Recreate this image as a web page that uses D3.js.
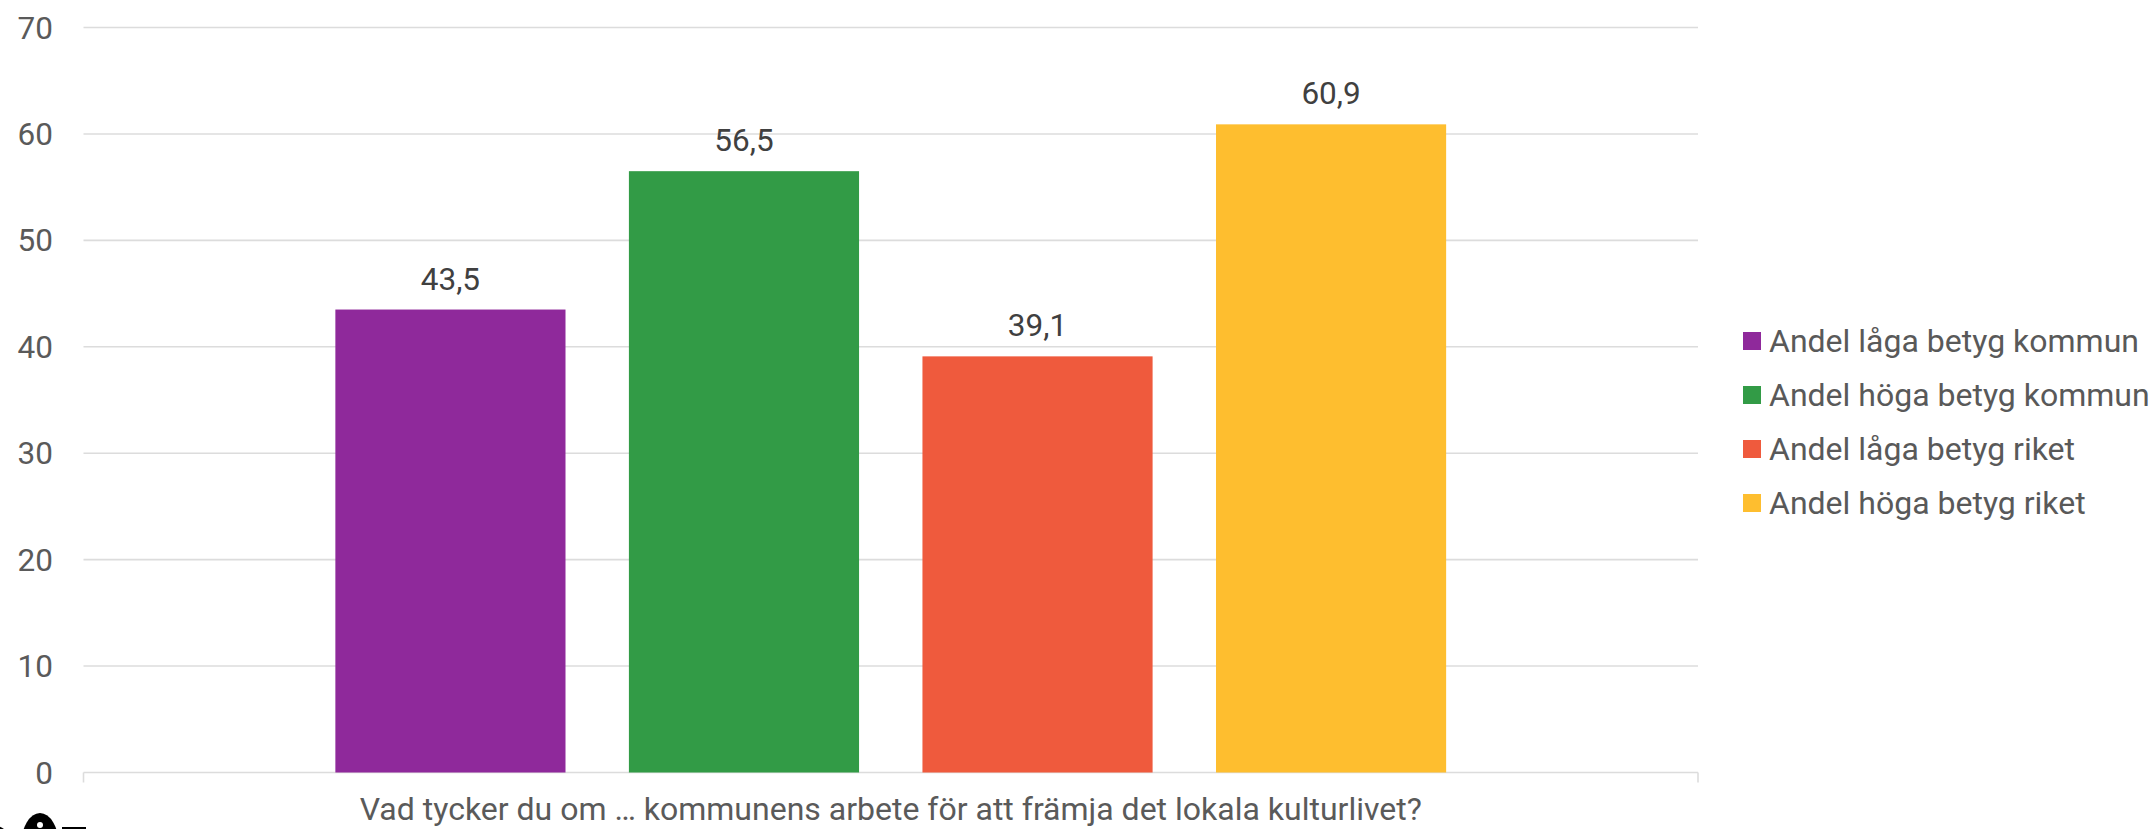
<!DOCTYPE html>
<html>
<head>
<meta charset="utf-8">
<script src="https://cdn.jsdelivr.net/npm/d3@7"></script>
<style>
  html, body { margin: 0; padding: 0; background: #fff; }
  svg { display: block; font-family: Roboto, "Noto Sans", sans-serif; }
</style>
</head>
<body>
<svg id="chart" width="2151" height="829"></svg>
<script>
const categories = ["Vad tycker du om … kommunens arbete för att främja det lokala kulturlivet?"];
const seriesNames = ["Andel låga betyg kommun", "Andel höga betyg kommun", "Andel låga betyg riket", "Andel höga betyg riket"];
const seriesValues = [43.5, 56.5, 39.1, 60.9];
const seriesColors = ["#8f299b", "#329b46", "#ef5a3d", "#febe2f"];
const yTicks = [0, 10, 20, 30, 40, 50, 60, 70];

const svg = d3.select("#chart");
const plot = { left: 83.5, right: 1698, top: 27.5, bottom: 772.5 };

const y = d3.scaleLinear().domain([0, 70]).range([plot.bottom, plot.top]);
const x0 = d3.scaleBand().domain(categories).range([plot.left, plot.right]).padding(0);
const x1 = d3.scaleBand().domain(seriesNames).range([0, x0.bandwidth()])
  .paddingInner(0.216).paddingOuter(0.858);

// gridlines
svg.append("g")
  .selectAll("line")
  .data(yTicks)
  .join("line")
  .attr("x1", plot.left).attr("x2", plot.right)
  .attr("y1", d => y(d)).attr("y2", d => y(d))
  .attr("stroke", "#dcdcdc").attr("stroke-width", 1.6);

// y tick labels
svg.append("g")
  .selectAll("text")
  .data(yTicks)
  .join("text")
  .attr("x", 53).attr("y", d => y(d))
  .attr("dy", "0.35em")
  .attr("text-anchor", "end")
  .attr("font-size", 31.5)
  .attr("fill", "#5a5a5a")
  .text(d => d);

// category axis edge ticks
svg.append("g")
  .selectAll("line")
  .data([plot.left, plot.right])
  .join("line")
  .attr("x1", d => d).attr("x2", d => d)
  .attr("y1", plot.bottom).attr("y2", plot.bottom + 10)
  .attr("stroke", "#dcdcdc").attr("stroke-width", 1.6);

// bars
const gCat = svg.append("g").attr("transform", `translate(${x0(categories[0])},0)`);
gCat.selectAll("rect")
  .data(seriesNames)
  .join("rect")
  .attr("x", d => x1(d))
  .attr("width", x1.bandwidth())
  .attr("y", (d, i) => y(seriesValues[i]))
  .attr("height", (d, i) => y(0) - y(seriesValues[i]))
  .attr("fill", (d, i) => seriesColors[i]);

// value labels
gCat.selectAll("text.val")
  .data(seriesNames)
  .join("text")
  .attr("class", "val")
  .attr("x", d => x1(d) + x1.bandwidth() / 2)
  .attr("y", (d, i) => y(seriesValues[i]) - 20)
  .attr("text-anchor", "middle")
  .attr("font-size", 31.5)
  .attr("fill", "#404040")
  .text((d, i) => seriesValues[i].toFixed(1).replace(".", ","));

// category label
svg.append("text")
  .attr("x", x0(categories[0]) + x0.bandwidth() / 2)
  .attr("y", 820)
  .attr("text-anchor", "middle")
  .attr("font-size", 32)
  .attr("fill", "#5a5a5a")
  .text(categories[0]);

// legend
const leg = svg.append("g").attr("transform", "translate(1743,332)");
const items = leg.selectAll("g")
  .data(seriesNames)
  .join("g")
  .attr("transform", (d, i) => `translate(0,${i * 54})`);
items.append("rect")
  .attr("width", 18).attr("height", 18)
  .attr("fill", (d, i) => seriesColors[i]);
items.append("text")
  .attr("x", 26).attr("y", 20)
  .attr("font-size", 32)
  .attr("fill", "#595959")
  .text(d => d);

// stray cut-off mark at bottom-left
const mark = svg.append("g");
mark.append("ellipse").attr("cx", 40).attr("cy", 846).attr("rx", 19).attr("ry", 33).attr("fill", "#000");
mark.append("circle").attr("cx", 40).attr("cy", 825).attr("r", 3).attr("fill", "#fff");
mark.append("ellipse").attr("cx", -4).attr("cy", 838).attr("rx", 12).attr("ry", 12).attr("fill", "#000");
mark.append("rect").attr("x", 62).attr("y", 827).attr("width", 24).attr("height", 2).attr("fill", "#000");
</script>
</body>
</html>
